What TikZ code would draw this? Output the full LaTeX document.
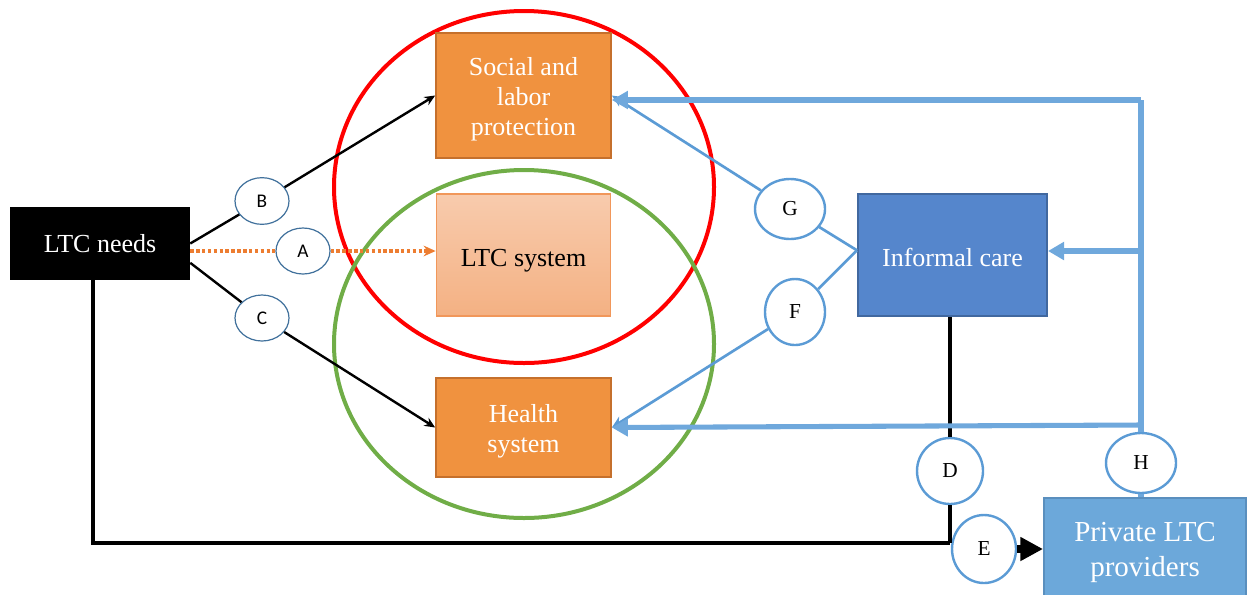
\documentclass[tikz,border=0pt]{standalone}
\usepackage{fontspec}
\setmainfont{Liberation Serif}
\newfontfamily\letterfont{Carlito}
\usetikzlibrary{shapes.geometric, arrows.meta, positioning}

\definecolor{boxorange}{HTML}{F0923F}
\definecolor{orangeedge}{HTML}{C5702C}
\definecolor{ltctop}{HTML}{F8CBAD}
\definecolor{ltcbottom}{HTML}{F4B183}
\definecolor{dotorange}{HTML}{ED7D31}
\definecolor{careblue}{HTML}{5586CC}
\definecolor{careedge}{HTML}{41689F}
\definecolor{privblue}{HTML}{6CA8DA}
\definecolor{privedge}{HTML}{5A8FBE}
\definecolor{lineblue}{HTML}{5B9BD5}
\definecolor{thickblue}{HTML}{6FA8DC}
\definecolor{letteredge}{HTML}{41719C}
\definecolor{ltcgreen}{HTML}{70AD47}

% move a line of box text a little down
\newcommand{\sunk}[2][3pt]{\raisebox{-#1}[\height][\depth]{#2}}

\tikzset{
  mainbox/.style={rectangle, inner sep=0pt, align=center, text=white,
    font=\fontsize{19.5}{22.5}\selectfont},
  orangebox/.style={mainbox, draw=orangeedge, fill=boxorange, line width=1.5pt,
    minimum width=131pt},
  letter/.style={ellipse, draw=lineblue, fill=white, line width=1.8pt, inner sep=0pt,
    font=\fontsize{16}{16}\selectfont},
  sansletter/.style={ellipse, draw=letteredge, fill=white, line width=0.9pt, inner sep=0pt,
    minimum width=40.5pt, minimum height=35pt, font=\letterfont\fontsize{14.5}{14.5}\selectfont},
  needline/.style={line width=1.8pt, -{Stealth[length=8pt,width=7pt]}},
  blackline/.style={line width=3.2pt},
  bluethin/.style={draw=lineblue, line width=2pt, -{Stealth[length=9pt,width=8pt]}},
  bluebig/.style={draw=thickblue, line width=3.8pt},
  bluearrow/.style={bluebig, -{Triangle[length=12pt,width=13pt]}}
}

\begin{document}
\begin{tikzpicture}[x=0.75pt, y=-0.75pt]
\useasboundingbox (0,0) rectangle (1248,594);

% Add the two systems
\draw[red, line width=3pt] (524,187) ellipse [x radius=142.5pt, y radius=132pt];
\draw[ltcgreen, line width=3pt] (524,344) ellipse [x radius=142.5pt, y radius=130.5pt];

% Add the boxes
\node[mainbox,
		fill=black,
		minimum width=135pt,
		minimum height=54.75pt] (needs) at (100,243.5) {LTC needs};

\node[orangebox,
		minimum height=93.75pt] (social) at (523.5,95.5)
		{\sunk{Social and}\\\sunk{labor}\\\sunk{protection}};

\node[mainbox,
		text=black,
		draw=dotorange!80,
		line width=0.8pt,
		top color=ltctop,
		bottom color=ltcbottom,
		minimum width=131pt,
		minimum height=91.5pt] (ltcsys) at (523.5,255) {\sunk[4.5pt]{LTC system}};

\node[orangebox,
		minimum height=74.25pt] (health) at (523.5,427.5)
		{\sunk{Health}\\\sunk{system}};

\node[mainbox,
		draw=careedge,
		fill=careblue,
		line width=1.5pt,
		minimum width=141.75pt,
		minimum height=91.5pt] (informal) at (952.5,255) {\sunk[1.5pt]{Informal care}};

\node[mainbox,
		draw=privedge,
		fill=privblue,
		line width=1.5pt,
		font=\fontsize{21.75}{26}\selectfont,
		minimum width=151.5pt,
		minimum height=75pt] (private) at (1145,548)
		{\sunk[3.5pt]{Private LTC}\\\sunk[3.5pt]{providers}};

% Add the link labels
\node[sansletter] (b) at (262,201) {B};
\node[sansletter, minimum height=34.5pt] (a) at (303,251) {A};
\node[sansletter, minimum height=34.5pt] (c) at (262,318) {C};
\node[letter, minimum width=52.5pt, minimum height=45pt] (g) at (790,209) {G};
\node[letter, minimum width=45pt, minimum height=49.5pt] (f) at (795,312) {F};
\node[letter, minimum width=49.5pt, minimum height=49.5pt] (d) at (950,471) {D};
\node[letter, minimum width=52.5pt, minimum height=45pt] (h) at (1141,463) {H};
\node[letter, minimum width=48pt, minimum height=51pt] (e) at (984,549) {E};

\coordinate (turn) at (93,543);
\coordinate (corner) at (950,543);
\coordinate (top) at (1141,100);
\coordinate (mid) at (1141,251);
\coordinate (low) at (1141,425);

% Add the links
\draw[needline] (needs.east) -- (b) -- (social.west);
\draw[needline] ([yshift=-14.5pt]needs.east) -- (c) -- (health.west);
\draw[dotorange, line width=3pt, dash pattern=on 2.6pt off 1.8pt,
		-{Stealth[length=9pt,width=8pt]}] (needs.east |- a) -- (a) -- (ltcsys.west |- a);

\draw[blackline] (needs.south -| turn) -- (turn) -- (corner);
\draw[blackline] (d |- informal.south) -- (d);
\draw[blackline] (d) -- (corner);
\draw[line width=6pt, -{Triangle[length=17pt,width=17pt]}] (e) -- (e -| private.west);

\draw[bluethin] ([yshift=3.5pt]informal.west) -- (g) -- (social.east);
\draw[bluethin] ([yshift=3.5pt]informal.west) -- (f) -- (health.east);

\draw[bluebig] (h |- private.north) -- (h);
\draw[bluebig] (h) -- (top);
\draw[bluearrow] (top) -- (top -| social.east);
\draw[bluearrow] (mid) -- (mid -| informal.east);
\draw[bluearrow] (low) -- (health.east);
\end{tikzpicture}
\end{document}
